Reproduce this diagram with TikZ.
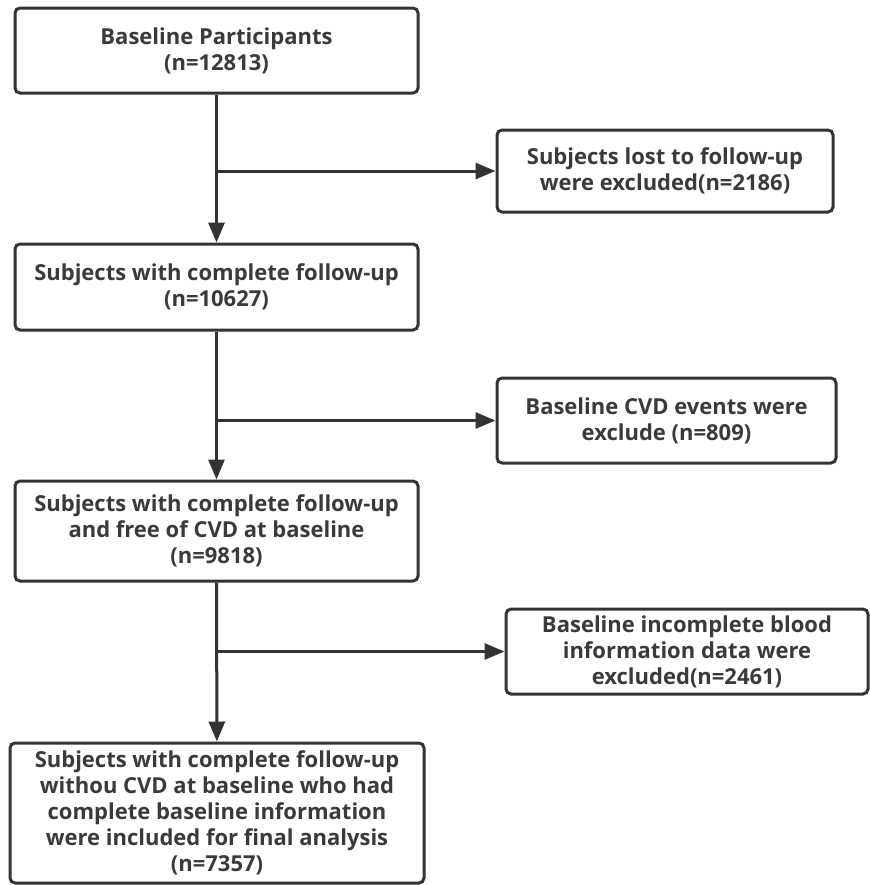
\documentclass[tikz,border=0pt]{standalone}
\usepackage{fontspec}
\setmainfont{Open Sans}
\usepackage{tikz}
\usetikzlibrary{positioning,arrows.meta}
\definecolor{trazo}{HTML}{333333}
\definecolor{letra}{HTML}{3A3A3A}
\tikzset{caja/.style={draw=trazo,line width=1.5pt,rounded corners=2.5pt,align=center,
    text=letra,font=\fontsize{11}{13}\selectfont\bfseries,inner sep=0pt}}
\tikzset{flecha/.style={draw=trazo,line width=1.5pt,-{Triangle[length=10pt,width=8pt]}}}
\tikzset{linea/.style={draw=trazo,line width=1.5pt}}

\begin{document}
\begin{tikzpicture}[x=0.5pt,y=-0.5pt]
            \useasboundingbox (0,0) rectangle (869,885);
            \node[caja,minimum width=201.5pt,minimum height=42.5pt] (base) at (216.5,50.5)
                {Baseline Participants\\(n=12813)};
            \node[caja,minimum width=201.5pt,minimum height=43pt] (seg) at (216.5,287)
                {Subjects with complete follow-up\\(n=10627)};
            \node[caja,minimum width=201.5pt,minimum height=50pt] (libre) at (216.5,531)
                {Subjects with complete follow-up\\and free of CVD at baseline\\(n=9818)};
            \node[caja,minimum width=207pt,minimum height=70pt] (final) at (217,813)
                {Subjects with complete follow-up\\withou CVD at baseline who had\\complete baseline information\\were included for final analysis\\(n=7357)};

            \node[caja,minimum width=168pt,minimum height=41pt] (perd) at (665,171)
                {Subjects lost to follow-up\\were excluded(n=2186)};
            \node[caja,minimum width=169.5pt,minimum height=42.5pt] (cvd) at (666.5,420.5)
                {Baseline CVD events were\\exclude (n=809)};
            \node[caja,minimum width=181pt,minimum height=42.5pt] (sangre) at (687,651.5)
                {Baseline incomplete blood\\information data were\\excluded(n=2461)};

            \coordinate (c1) at (base.south |- perd.west);
            \coordinate (c2) at (base.south |- cvd.west);
            \coordinate (c3) at (base.south |- sangre.west);

            \draw[flecha] (base) -- (seg);
            \draw[flecha] (seg) -- (libre);
            \draw[flecha] (libre) -- (final);
            \draw[flecha] (c1) -- (perd);
            \draw[flecha] (c2) -- (cvd);
            %\draw[linea] (c3) -- (libre);
            \draw[flecha] (c3) -- (sangre);
        \end{tikzpicture}
\end{document}
